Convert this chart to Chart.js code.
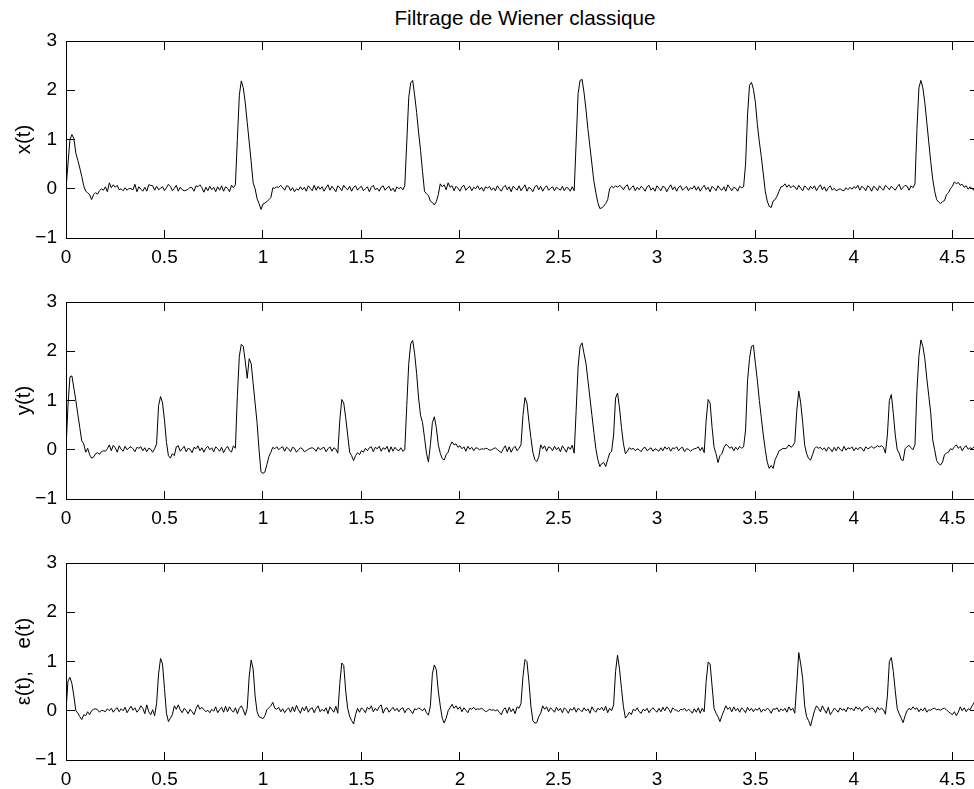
<!DOCTYPE html>
<html lang="fr">
<head>
<meta charset="utf-8">
<title>Filtrage de Wiener classique</title>
<script src="https://cdn.jsdelivr.net/npm/chart.js@4.4.1/dist/chart.umd.min.js"></script>
<style>
  html, body { margin: 0; padding: 0; background: #fff; overflow: hidden; }
  .page { position: relative; width: 974px; height: 789px; overflow: hidden; }
  .title {
    position: absolute; left: 0; top: 8px; width: 1050px; text-align: center;
    font: 20.7px "Liberation Sans", Arial, Helvetica, sans-serif; line-height: 20px; color: #000;
  }
  canvas { position: absolute; left: 0; }
</style>
</head>
<body>
<div class="page">
  <div class="title">Filtrage de Wiener classique</div>
  <canvas id="plotX" width="1000" height="280" style="top:0px"></canvas>
  <canvas id="plotY" width="1000" height="280" style="top:261px"></canvas>
  <canvas id="plotE" width="1000" height="280" style="top:522px"></canvas>
</div>
<script>
/* Wiener filtering – three stacked traces sampled every 10 ms */

const SAMPLE_STEP = 0.01;
const X_MAX = 4.63;
const Y_MIN = -1;
const Y_MAX = 3;
const X_TICKS = [0, 0.5, 1, 1.5, 2, 2.5, 3, 3.5, 4, 4.5];
const Y_TICKS = [-1, 0, 1, 2, 3];
const Y_LABELS = ["x(t)", "y(t)", "\u03b5(t),    e(t)"];

/* x(t): useful signal */
const X_SIGNAL = [
  0.00, 0.50, 1.00, 1.10, 1.02, 0.72, 0.58, 0.42, 0.25, 0.06,
  -0.05, -0.08, -0.12, -0.22, -0.12, -0.08, -0.11, -0.04, 0.00, -0.03,
  0.04, -0.06, 0.12, 0.02, 0.08, 0.03, 0.07, -0.02, 0.00, -0.04,
  0.02, -0.03, 0.01, 0.00, -0.02, 0.09, -0.06, 0.04, -0.01, -0.05,
  0.03, -0.05, 0.08, 0.07, 0.06, -0.03, 0.05, -0.02, 0.01, 0.04,
  -0.04, 0.02, 0.09, 0.05, -0.04, 0.01, 0.07, -0.05, 0.03, -0.02,
  -0.04, -0.03, -0.01, 0.03, 0.02, -0.05, 0.06, 0.04, 0.08, 0.02,
  -0.07, 0.03, -0.04, 0.05, -0.02, 0.03, -0.06, 0.04, -0.03, 0.06,
  -0.05, 0.04, 0.01, -0.06, 0.07, 0.02, 0.08, 1.00, 1.90, 2.19,
  2.05, 1.75, 1.35, 0.95, 0.55, 0.12, 0.00, -0.20, -0.30, -0.42,
  -0.31, -0.29, -0.26, -0.22, -0.18, 0.02, 0.01, 0.04, 0.03, 0.07,
  0.02, -0.03, 0.06, 0.05, -0.04, 0.02, -0.06, 0.00, -0.03, 0.04,
  -0.02, 0.03, -0.05, 0.06, 0.01, -0.04, 0.07, -0.03, 0.05, -0.01,
  0.04, -0.05, 0.02, 0.08, -0.03, 0.05, 0.00, -0.06, 0.06, 0.02,
  -0.04, 0.07, 0.01, -0.02, 0.05, -0.05, 0.03, 0.06, -0.03, 0.02,
  0.05, -0.04, 0.00, 0.04, -0.06, 0.03, 0.07, -0.02, 0.01, -0.05,
  0.03, 0.06, -0.03, 0.02, 0.05, -0.04, 0.01, -0.06, 0.04, 0.00,
  0.03, -0.02, 0.06, 0.95, 1.85, 2.15, 2.20, 1.90, 1.55, 1.15,
  0.78, 0.35, -0.05, -0.10, -0.14, -0.25, -0.28, -0.33, -0.26, -0.12,
  0.10, 0.04, 0.08, -0.02, 0.12, 0.03, 0.06, -0.04, 0.05, 0.01,
  -0.05, 0.04, 0.07, -0.03, 0.02, 0.05, -0.04, 0.03, 0.00, 0.06,
  -0.02, 0.03, -0.05, 0.04, 0.01, 0.05, -0.03, 0.02, -0.04, 0.06,
  0.00, -0.05, 0.03, 0.07, -0.02, 0.04, -0.06, 0.05, 0.01, -0.03,
  0.06, -0.04, 0.02, 0.08, -0.05, 0.03, 0.00, -0.06, 0.04, 0.07,
  -0.02, 0.05, -0.05, 0.02, 0.06, -0.03, 0.01, 0.04, -0.04, 0.03,
  0.00, -0.03, 0.05, -0.04, 0.03, 0.01, -0.05, 0.04, -0.04, 0.95,
  1.94, 2.20, 2.22, 1.95, 1.60, 1.20, 0.85, 0.50, 0.15, -0.08,
  -0.28, -0.40, -0.39, -0.35, -0.30, -0.22, 0.00, 0.05, 0.02, 0.06,
  0.03, 0.07, 0.04, -0.02, 0.05, 0.08, -0.03, 0.02, 0.06, -0.04,
  0.03, -0.02, 0.05, 0.01, -0.05, 0.04, 0.07, -0.03, 0.02, -0.05,
  0.06, 0.01, -0.04, 0.05, 0.03, -0.06, 0.02, 0.08, -0.02, 0.04,
  -0.05, 0.03, 0.06, -0.03, 0.01, 0.05, -0.04, 0.02, 0.00, 0.06,
  -0.03, 0.04, -0.05, 0.02, 0.07, -0.02, 0.03, -0.06, 0.05, 0.01,
  -0.04, 0.06, 0.00, -0.03, 0.04, -0.05, 0.08, 0.02, -0.04, 0.03,
  0.01, -0.05, 0.05, 0.02, 0.04, 0.50, 1.50, 2.10, 2.16, 2.02,
  1.75, 1.30, 0.95, 0.65, 0.30, -0.05, -0.25, -0.36, -0.38, -0.25,
  -0.22, -0.15, -0.05, 0.04, 0.05, 0.10, 0.03, 0.08, 0.02, 0.06,
  0.04, -0.02, 0.07, 0.01, -0.04, 0.06, 0.02, -0.03, 0.05, 0.00,
  0.06, -0.04, 0.03, 0.08, -0.02, 0.04, -0.05, 0.02, 0.06, -0.03,
  0.01, -0.04, -0.02, 0.00, -0.03, -0.04, 0.02, -0.02, 0.03, -0.01,
  0.04, 0.01, 0.07, -0.03, 0.05, 0.02, -0.04, 0.06, 0.03, -0.05,
  0.05, 0.02, -0.04, 0.06, 0.01, -0.03, 0.07, 0.03, -0.02, 0.05,
  0.01, -0.03, 0.04, 0.09, -0.02, 0.03, 0.07, 0.05, -0.03, 0.06,
  0.02, 0.10, 1.20, 2.05, 2.20, 2.05, 1.75, 1.35, 0.95, 0.55,
  0.20, -0.05, -0.22, -0.27, -0.30, -0.26, -0.24, -0.12, -0.08, 0.00,
  0.05, 0.14, 0.10, 0.13, 0.07, 0.09, 0.03, 0.06, -0.01, 0.04,
  0.00, -0.03, -0.04
];

/* y(t): observed signal (x(t) plus disturbance) */
const Y_SIGNAL = [
  0.00, 0.90, 1.48, 1.50, 1.25, 1.00, 0.72, 0.45, 0.18, 0.12,
  -0.05, 0.03, -0.10, -0.17, -0.15, -0.08, -0.06, -0.09, -0.04, -0.02,
  -0.03, 0.02, 0.10, -0.02, 0.09, 0.04, -0.05, 0.08, 0.01, -0.03,
  0.07, 0.00, 0.04, 0.06, 0.02, -0.04, 0.05, 0.03, 0.06, -0.02,
  0.04, -0.04, 0.03, 0.01, -0.05, 0.02, 0.12, 0.90, 1.08, 0.95,
  0.60, 0.15, -0.12, -0.17, -0.08, -0.12, 0.06, 0.08, -0.03, 0.02,
  0.07, -0.04, 0.03, 0.01, -0.06, 0.05, 0.02, 0.08, -0.02, 0.04,
  -0.05, 0.03, 0.07, 0.00, 0.04, -0.04, 0.06, 0.02, -0.03, 0.05,
  -0.06, 0.02, 0.07, -0.01, -0.05, 0.08, 0.03, 1.10, 1.90, 2.14,
  2.10, 1.80, 1.45, 1.85, 1.75, 1.35, 0.95, 0.55, 0.00, -0.45,
  -0.48, -0.45, -0.30, -0.14, -0.05, 0.05, 0.02, 0.06, 0.00, 0.04,
  0.06, -0.03, 0.05, 0.02, -0.04, 0.05, 0.03, -0.05, 0.00, 0.04,
  0.02, -0.04, -0.02, 0.01, 0.03, 0.04, 0.02, -0.03, 0.05, 0.00,
  0.03, 0.05, -0.04, 0.02, 0.06, -0.03, 0.04, 0.01, -0.07, 0.60,
  1.02, 0.95, 0.65, 0.30, -0.05, -0.12, -0.22, -0.12, -0.06, -0.10,
  -0.02, -0.05, 0.03, -0.02, 0.04, 0.06, -0.04, 0.05, 0.02, 0.07,
  -0.03, 0.04, 0.01, 0.07, -0.05, 0.06, -0.03, 0.05, 0.00, -0.02,
  0.04, -0.03, 0.00, 0.90, 1.75, 2.15, 2.22, 1.95, 1.55, 1.05,
  0.70, 0.55, 0.25, -0.07, -0.25, 0.10, 0.55, 0.67, 0.45, 0.10,
  -0.07, -0.18, -0.21, -0.10, -0.05, 0.08, 0.16, 0.10, 0.12, 0.05,
  0.08, 0.02, 0.06, -0.03, 0.07, 0.01, 0.05, -0.02, 0.04, 0.03,
  0.00, 0.02, 0.01, 0.03, 0.02, -0.01, 0.00, 0.02, 0.04, 0.00,
  -0.03, -0.06, 0.02, 0.08, -0.04, 0.06, -0.05, 0.03, 0.07, -0.02,
  0.03, 0.10, 0.70, 1.06, 0.95, 0.58, 0.25, -0.05, -0.20, -0.24,
  -0.15, 0.10, 0.02, 0.08, -0.03, 0.06, 0.04, -0.02, 0.07, 0.00,
  0.05, -0.04, 0.08, 0.02, -0.05, 0.06, 0.01, 0.09, -0.07, 0.80,
  1.70, 2.10, 2.17, 1.95, 1.75, 1.40, 1.05, 0.70, 0.35, 0.02,
  -0.20, -0.34, -0.28, -0.26, -0.34, -0.20, -0.07, -0.03, 0.30, 1.05,
  1.15, 0.85, 0.45, 0.12, -0.08, -0.03, 0.04, 0.01, 0.03, -0.02,
  0.02, 0.00, -0.04, 0.03, 0.05, -0.02, 0.01, 0.04, -0.03, 0.02,
  0.00, -0.03, 0.04, -0.02, 0.06, 0.01, 0.05, -0.03, 0.04, 0.02,
  0.06, -0.02, 0.03, 0.05, -0.04, 0.02, 0.01, -0.03, 0.00, 0.02,
  0.03, 0.06, -0.02, 0.05, -0.06, 0.60, 1.02, 0.95, 0.45, 0.05,
  -0.08, -0.26, -0.12, -0.08, 0.04, 0.11, 0.08, 0.03, 0.06, -0.02,
  0.05, 0.00, 0.07, 0.03, 0.06, 0.40, 1.40, 1.85, 2.10, 2.12,
  1.75, 1.40, 1.00, 0.65, 0.30, 0.00, -0.25, -0.38, -0.32, -0.38,
  -0.20, -0.12, -0.02, 0.00, 0.03, 0.02, 0.04, 0.10, 0.05, 0.08,
  0.15, 0.80, 1.19, 0.95, 0.55, 0.10, -0.08, -0.18, -0.21, -0.10,
  0.02, 0.06, 0.03, 0.05, 0.00, 0.04, -0.03, 0.05, 0.02, -0.04,
  0.05, -0.02, 0.06, 0.01, -0.03, 0.07, -0.01, 0.04, 0.02, 0.06,
  -0.02, 0.04, 0.00, 0.05, 0.03, -0.03, 0.06, 0.02, 0.04, 0.07,
  0.03, 0.05, 0.08, 0.06, 0.08, 0.05, -0.07, 0.30, 1.00, 1.12,
  0.74, 0.30, 0.00, -0.07, -0.20, -0.22, 0.02, 0.06, 0.09, 0.04,
  0.00, 0.10, 1.20, 1.90, 2.23, 2.10, 1.85, 1.45, 1.10, 0.75,
  0.20, 0.00, -0.22, -0.28, -0.31, -0.25, -0.10, -0.07, -0.05, 0.02,
  0.00, 0.06, 0.10, 0.03, 0.07, -0.02, 0.05, 0.08, 0.01, 0.04,
  0.02, 0.06, 0.10
];

/* ε(t): estimation error */
const E_SIGNAL = [
  0.00, 0.60, 0.68, 0.55, 0.30, 0.00, -0.05, -0.12, -0.18, -0.08,
  -0.10, -0.02, -0.08, 0.00, 0.03, 0.04, 0.02, -0.03, 0.01, 0.00,
  -0.02, 0.04, 0.00, 0.05, -0.03, 0.03, 0.06, -0.02, 0.04, 0.00,
  0.07, -0.04, 0.03, 0.09, 0.01, 0.06, -0.03, 0.02, 0.10, 0.05,
  -0.06, 0.12, -0.02, -0.08, 0.02, -0.10, 0.15, 0.75, 1.06, 0.95,
  0.45, -0.05, -0.22, -0.15, -0.08, 0.10, 0.03, 0.12, 0.02, -0.04,
  0.05, 0.01, -0.06, 0.03, -0.02, -0.08, 0.04, 0.12, 0.03, 0.07,
  0.02, -0.02, 0.01, -0.04, 0.03, -0.01, 0.08, -0.04, 0.02, 0.07,
  -0.03, 0.09, -0.02, 0.08, 0.01, -0.03, 0.06, -0.06, 0.05, 0.10,
  0.02, -0.09, 0.05, 0.70, 1.03, 0.85, 0.30, -0.02, -0.12, -0.14,
  -0.16, -0.10, 0.02, 0.06, 0.10, 0.17, 0.05, 0.03, 0.07, -0.02,
  0.04, -0.04, 0.02, 0.06, -0.03, 0.08, -0.02, 0.11, 0.02, -0.05,
  0.07, 0.00, 0.09, -0.03, 0.04, 0.06, -0.04, 0.05, 0.10, -0.02,
  0.03, -0.01, 0.06, -0.06, 0.08, 0.02, -0.03, 0.09, -0.05, 0.55,
  0.97, 0.92, 0.40, 0.05, -0.12, -0.20, -0.27, -0.08, 0.05, -0.03,
  0.06, 0.02, -0.04, 0.07, 0.03, 0.10, -0.02, 0.05, 0.00, 0.08,
  0.12, -0.05, 0.04, 0.06, -0.03, 0.02, 0.07, 0.00, 0.05, -0.02,
  0.04, 0.06, -0.04, 0.03, 0.05, 0.00, -0.06, 0.04, 0.02, 0.06,
  0.03, 0.00, 0.05, -0.04, -0.09, 0.10, 0.75, 0.93, 0.83, 0.40,
  0.10, -0.15, -0.25, -0.15, 0.00, 0.06, 0.13, 0.05, 0.10, 0.03,
  0.08, -0.02, 0.06, 0.01, -0.04, 0.05, 0.03, 0.07, 0.02, 0.04,
  0.03, 0.05, 0.02, -0.02, 0.00, 0.03, 0.01, 0.02, 0.00, 0.02,
  -0.03, -0.08, 0.02, 0.06, -0.05, 0.07, -0.02, 0.04, -0.06, 0.08,
  0.05, 0.15, 0.70, 1.04, 1.00, 0.60, 0.10, -0.20, -0.25, -0.24,
  -0.12, -0.05, 0.10, 0.03, 0.08, -0.02, 0.06, 0.02, -0.03, 0.07,
  0.00, 0.05, -0.04, 0.06, 0.02, -0.05, 0.04, 0.01, 0.07, -0.03,
  0.05, 0.02, -0.02, 0.06, 0.00, 0.04, -0.05, 0.08, 0.01, -0.03,
  0.05, 0.02, 0.07, 0.00, 0.09, -0.04, 0.05, 0.00, 0.12, 0.80,
  1.13, 0.85, 0.45, 0.08, -0.15, -0.10, -0.03, -0.08, 0.03, 0.00,
  0.06, -0.02, -0.05, 0.03, 0.00, 0.05, -0.04, 0.02, 0.06, 0.01,
  -0.03, 0.05, -0.02, 0.07, 0.00, 0.08, 0.03, -0.04, 0.06, 0.02,
  0.01, -0.02, 0.03, 0.02, 0.05, -0.01, 0.03, 0.00, -0.05, 0.04,
  -0.03, 0.06, -0.05, 0.05, -0.02, 0.60, 0.99, 0.95, 0.50, 0.05,
  -0.05, -0.12, -0.22, -0.10, 0.00, 0.10, 0.03, 0.07, -0.02, 0.08,
  0.00, 0.05, -0.03, 0.06, 0.02, -0.04, 0.07, 0.00, 0.05, -0.02,
  0.04, 0.01, 0.06, -0.03, 0.03, 0.00, 0.05, 0.02, -0.05, 0.04,
  0.03, 0.06, -0.02, 0.04, 0.00, 0.05, -0.03, 0.08, 0.01, 0.05,
  -0.05, 0.55, 1.18, 0.95, 0.65, 0.10, -0.12, -0.20, -0.31, -0.15,
  0.00, 0.10, 0.05, -0.02, 0.10, 0.02, -0.05, 0.07, -0.08, -0.02,
  0.05, 0.02, -0.03, 0.06, 0.01, 0.04, -0.02, 0.07, 0.03, 0.05,
  0.00, 0.08, 0.03, 0.06, -0.01, 0.05, 0.07, 0.09, 0.02, 0.06,
  0.03, -0.04, 0.07, 0.02, 0.05, 0.02, -0.07, 0.30, 1.00, 1.08,
  0.80, 0.40, 0.04, -0.06, -0.15, -0.24, -0.10, 0.00, 0.05, 0.02,
  0.08, 0.03, 0.06, -0.02, 0.04, 0.00, 0.06, -0.03, 0.02, 0.01,
  0.04, 0.05, 0.02, 0.03, 0.01, 0.04, 0.05, 0.02, -0.02, -0.05,
  -0.08, -0.02, -0.10, -0.03, 0.08, 0.00, 0.06, -0.02, 0.04, 0.02,
  0.10, 0.16, 0.25
];

const FONT_FAMILY = '"Liberation Sans", Arial, Helvetica, sans-serif';
const TICK_FONT_SIZE = 19;
const LABEL_FONT_SIZE = 20.5;
const TICK_LENGTH = 8.5;
const AXIS_COLOR = "#000";
const TRACE_COLOR = "#000";

/* ---------- Axes box with inward ticks on all four sides ---------- */
const axesBox = {
  id: "axesBox",
  afterDraw(chart) {
    const { ctx, chartArea: area, scales } = chart;
    const left = Math.floor(area.left) + 0.5;
    const right = Math.floor(area.right) + 0.5;
    const top = Math.floor(area.top) + 0.5;
    const bottom = Math.floor(area.bottom) + 0.5;

    ctx.save();
    ctx.strokeStyle = AXIS_COLOR;
    ctx.lineWidth = 1;
    ctx.strokeRect(left, top, right - left, bottom - top);

    ctx.beginPath();
    scales.x.ticks.forEach((t) => {
      const px = Math.floor(scales.x.getPixelForValue(t.value)) + 0.5;
      ctx.moveTo(px, bottom);
      ctx.lineTo(px, bottom - TICK_LENGTH);
      ctx.moveTo(px, top);
      ctx.lineTo(px, top + TICK_LENGTH);
    });
    scales.y.ticks.forEach((t) => {
      const py = Math.floor(scales.y.getPixelForValue(t.value)) + 0.5;
      ctx.moveTo(left, py);
      ctx.lineTo(left + TICK_LENGTH, py);
      ctx.moveTo(right, py);
      ctx.lineTo(right - TICK_LENGTH, py);
    });
    ctx.stroke();
    ctx.restore();
  }
};

function formatTick(v) {
  return v < 0 ? "\u2212" + Math.abs(v) : String(v);
}

function toPoints(values) {
  return values.map((v, i) => ({ x: i * SAMPLE_STEP, y: v }));
}

/* ---------- One subplot ---------- */
function createTracePlot(canvasId, values, yLabel) {
  const ctx = document.getElementById(canvasId);

  return new Chart(ctx, {
    type: "line",
    data: {
      datasets: [
        {
          label: yLabel,
          data: toPoints(values),
          borderColor: TRACE_COLOR,
          borderWidth: 1,
          pointRadius: 0,
          tension: 0,
          fill: false
        }
      ]
    },
    options: {
      responsive: false,
      animation: false,
      events: [],
      layout: { padding: { top: 41, right: 22, bottom: 0, left: 0 } },
      plugins: {
        legend: { display: false },
        tooltip: { enabled: false }
      },
      scales: {
        x: {
          type: "linear",
          min: 0,
          max: X_MAX,
          grid: { display: false, drawTicks: false },
          border: { display: false },
          afterBuildTicks: (scale) => { scale.ticks = X_TICKS.map((v) => ({ value: v })); },
          afterFit: (scale) => { scale.height = 42; },
          ticks: {
            autoSkip: false,
            maxRotation: 0,
            padding: 8,
            color: AXIS_COLOR,
            font: { family: FONT_FAMILY, size: TICK_FONT_SIZE },
            callback: (v) => formatTick(v)
          }
        },
        y: {
          min: Y_MIN,
          max: Y_MAX,
          grid: { display: false, drawTicks: false },
          border: { display: false },
          afterBuildTicks: (scale) => { scale.ticks = Y_TICKS.map((v) => ({ value: v })); },
          afterFit: (scale) => { scale.width = 66; },
          ticks: {
            padding: 9,
            color: AXIS_COLOR,
            font: { family: FONT_FAMILY, size: TICK_FONT_SIZE },
            callback: (v) => formatTick(v)
          },
          title: {
            display: true,
            text: yLabel,
            color: AXIS_COLOR,
            padding: { top: 12, bottom: 0 },
            font: { family: FONT_FAMILY, size: LABEL_FONT_SIZE }
          }
        }
      }
    },
    plugins: [axesBox]
  });
}

createTracePlot("plotX", X_SIGNAL, Y_LABELS[0]);
createTracePlot("plotY", Y_SIGNAL, Y_LABELS[1]);
createTracePlot("plotE", E_SIGNAL, Y_LABELS[2]);
</script>
</body>
</html>
